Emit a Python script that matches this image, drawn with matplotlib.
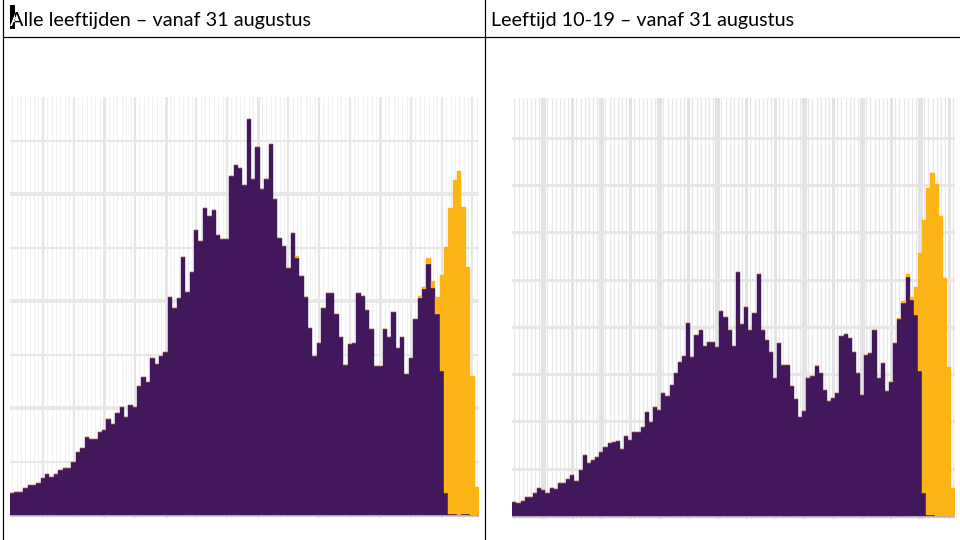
import matplotlib
matplotlib.use("Agg")
import matplotlib.pyplot as plt
from matplotlib.patches import Rectangle, PathPatch
from matplotlib.lines import Line2D
from matplotlib.textpath import TextPath
from matplotlib.font_manager import FontProperties
from matplotlib.transforms import Affine2D

W, H = 960, 540

# ---------------- data (bar heights, arbitrary units) -------------
days = list(range(107))  # daily bars from 31 August

titles = ["Alle leeftijden \u2013 vanaf 31 augustus",
          "Leeftijd 10-19 \u2013 vanaf 31 augustus"]

all_purple = [22, 23, 23, 27, 30, 30, 32, 37, 41, 38,
              41, 45, 47, 47, 53, 63, 67, 78, 76, 76,
              83, 85, 96, 91, 102, 108, 98, 110, 108, 129,
              138, 133, 157, 151, 159, 163, 218, 207, 217, 258,
              223, 243, 285, 274, 307, 299, 305, 280, 276, 276,
              339, 350, 347, 330, 396, 336, 368, 326, 336, 371,
              316, 277, 269, 247, 282, 257, 239, 218, 187, 159,
              172, 207, 222, 222, 201, 178, 150, 171, 172, 222,
              219, 205, 186, 149, 149, 186, 178, 203, 167, 178,
              141, 157, 196, 217, 226, 251, 227, 201, 144, 22,
              1.5, 1.5, 0, 1.5, 1.5, 0, 0]

all_yellow = [0] * 65 + [2] + [0] * 27 + \
             [2, 2, 6, 7, 17, 96, 246,
              306, 334, 344, 307, 247, 139, 28]

teen_purple = [14, 13, 15, 19, 19, 23, 28, 26, 23, 28,
               27, 33, 33, 37, 41, 35, 46, 61, 53, 56,
               59, 64, 69, 73, 74, 75, 67, 80, 76, 84,
               84, 89, 104, 94, 109, 106, 123, 120, 131, 143,
               154, 160, 193, 159, 181, 186, 170, 174, 174, 169,
               205, 199, 186, 170, 244, 192, 209, 186, 203, 242,
               186, 176, 164, 138, 173, 151, 151, 130, 117, 99,
               105, 138, 140, 150, 143, 126, 115, 118, 123, 180,
               182, 178, 164, 143, 121, 161, 163, 186, 138, 153,
               125, 134, 173, 197, 213, 239, 216, 201, 145, 23,
               1.5, 1.5, 0, 0, 0, 0, 0]

teen_yellow = [0] * 71 + [1, 0, 1] + [0] * 17 + \
              [1, 0, 1, 2, 3, 3, 28, 118, 273,
               327, 342, 332, 300, 238, 149, 28]

PURPLE = "#43175b"
YELLOW = "#fdb515"
AXIS_LINE = "#c9bcd6"

fig = plt.figure(figsize=(W / 100, H / 100), dpi=100)
fig.patch.set_facecolor("white")


def px_axes(x0, x1, ytop, ybot):
    return fig.add_axes([x0 / W, 1 - ybot / H, (x1 - x0) / W, (ybot - ytop) / H])


def pt(px):
    return px * 0.72


def draw_chart(ax, purple, yellow, ystep, nlines, thick_h, thick_v,
               minor_col, minor_lw, major_col, thin_v_lw, thick_v_lw,
               h_col, h_thin_lw, h_thick_lw, top):
    ax.set_xlim(-0.5, len(days) - 0.5)
    ax.set_ylim(-2.5, top)
    for s in ax.spines.values():
        s.set_visible(False)
    ax.set_xticks([])
    ax.set_yticks([])
    # daily thin lines
    for d in days:
        ax.axvline(d, color=minor_col, lw=pt(minor_lw), zorder=0)
    # weekly lines
    for d in range(7, len(days), 7):
        lw = thick_v_lw if d in thick_v else thin_v_lw
        ax.axvline(d, color=major_col, lw=pt(lw), zorder=0.5)
    # horizontal lines
    for k in range(1, nlines + 1):
        lw = h_thick_lw if k in thick_h else h_thin_lw
        ax.axhline(k * ystep, color=h_col, lw=pt(lw), zorder=0.6)
    ax.axhline(-1.2, color=AXIS_LINE, lw=pt(1.6), zorder=1)
    ax.bar(days, purple, width=1.0, color=PURPLE, linewidth=pt(0.4),
           edgecolor=PURPLE, zorder=2)
    ax.bar(days, yellow, bottom=purple, width=1.0, color=YELLOW,
           linewidth=pt(0.4), edgecolor=YELLOW, zorder=2)


# left chart: baseline at 515 px, grid top at 97 px
axL = px_axes(10, 479, 97, 517.5)
draw_chart(axL, all_purple, all_yellow, 53.5, 7, {2, 4, 6}, {21, 35, 56, 84},
           "#f0f0f0", 1.0, "#e6e6e6", 2.2, 3.0,
           "#e8e8e8", 2.2, 4.0, 418)

# right chart: baseline at 516 px, grid top at 98 px
axR = px_axes(512.3, 955.3, 98, 518.5)
draw_chart(axR, teen_purple, teen_yellow, 47.3, 8, {4},
           {7, 21, 35, 49, 70, 84, 98},
           "#e8e8e8", 1.3, "#e3e3e3", 3.0, 5.0,
           "#e6e6e6", 2.8, 3.4, 418)

# ---------------- table borders ----------------
def fline(x0, y0, x1, y1):
    fig.add_artist(Line2D([x0 / W, x1 / W], [1 - y0 / H, 1 - y1 / H],
                          transform=fig.transFigure, color="black",
                          lw=pt(1.2), zorder=10))


fline(3, 0, 3, 540)
fline(485, 0, 485, 540)
fline(3, 36.5, 960, 36.5)

# ---------------- titles ----------------
FONT = ["Lato", "DejaVu Sans"]
renderer = fig.canvas.get_renderer()
tL = fig.text(10 / W, 1 - 26 / H, titles[0], fontsize=14, family=FONT,
              ha="left", va="baseline", color="black", zorder=11)
tR = fig.text(491 / W, 1 - 26 / H, titles[1], fontsize=14, family=FONT,
              ha="left", va="baseline", color="black", zorder=11)
for t, target in ((tL, 303), (tR, 305)):
    wpx = t.get_window_extent(renderer=renderer).width
    t.set_fontsize(14 * target / wpx)

# text cursor / selection block over the first letter (white glyph inside)
sel = Rectangle((10 / W, 1 - 29 / H), 5 / W, 24 / H, transform=fig.transFigure,
                facecolor="black", edgecolor="none", zorder=12)
fig.add_artist(sel)
fs = tL.get_fontsize()
glyph = TextPath((0, 0), titles[0][0], size=fs, prop=FontProperties(family="Lato"))
gtrans = Affine2D().scale(100 / 72).translate(10, H - 26)
gpatch = PathPatch(glyph, transform=gtrans, facecolor="white", edgecolor="none",
                   zorder=13)
fig.add_artist(gpatch)
clip = Rectangle((10 / W, 1 - 29 / H), 5 / W, 24 / H, transform=fig.transFigure)
gpatch.set_clip_path(clip)

fig.savefig("out.png", dpi=100, facecolor="white")
